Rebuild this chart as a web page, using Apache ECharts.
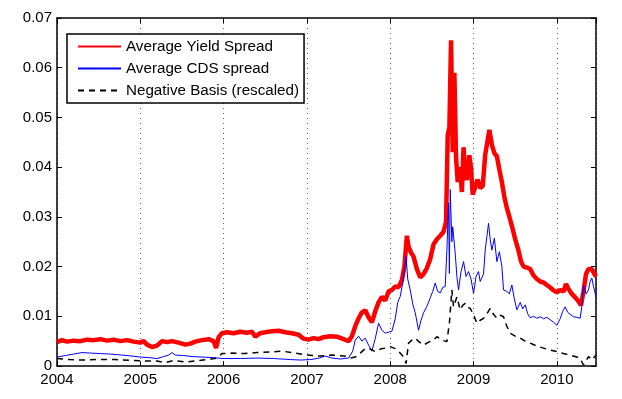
<!DOCTYPE html>
<html>
<head>
<meta charset="utf-8">
<script src="https://cdn.jsdelivr.net/npm/echarts@6/dist/echarts.min.js"></script>
<style>
  html, body { margin: 0; padding: 0; background: #fff; }
  #chart { width: 622px; height: 399px; }
</style>
</head>
<body>
<div id="chart"></div>
<script>
// values: [year, spread]
const yieldSpread = [
  [2004.00, 0.0048], [2004.06, 0.0052], [2004.12, 0.0049], [2004.20, 0.0051], [2004.28, 0.0050],
  [2004.36, 0.0053], [2004.44, 0.0052], [2004.52, 0.0054], [2004.60, 0.0051], [2004.68, 0.0053],
  [2004.76, 0.0050], [2004.84, 0.0052], [2004.92, 0.0049], [2005.00, 0.0047], [2005.04, 0.0050],
  [2005.08, 0.0043], [2005.14, 0.0038], [2005.20, 0.0041], [2005.26, 0.0050], [2005.32, 0.0048],
  [2005.38, 0.0050], [2005.46, 0.0047], [2005.54, 0.0043], [2005.60, 0.0045], [2005.66, 0.0049],
  [2005.74, 0.0052], [2005.82, 0.0054], [2005.88, 0.0050], [2005.91, 0.0036], [2005.94, 0.0058],
  [2005.98, 0.0066], [2006.04, 0.0068], [2006.12, 0.0066], [2006.20, 0.0069], [2006.28, 0.0067],
  [2006.34, 0.0069], [2006.38, 0.0059], [2006.44, 0.0066], [2006.50, 0.0068], [2006.58, 0.0070],
  [2006.66, 0.0071], [2006.74, 0.0068], [2006.82, 0.0066], [2006.90, 0.0063], [2006.96, 0.0055],
  [2007.02, 0.0053], [2007.08, 0.0056], [2007.14, 0.0054], [2007.20, 0.0058], [2007.28, 0.0060],
  [2007.36, 0.0059], [2007.44, 0.0054], [2007.50, 0.0050], [2007.54, 0.0060], [2007.58, 0.0080],
  [2007.62, 0.0096], [2007.66, 0.0108], [2007.70, 0.0112], [2007.74, 0.0098], [2007.78, 0.0088],
  [2007.82, 0.0110], [2007.86, 0.0128], [2007.90, 0.0139], [2007.94, 0.0132], [2007.98, 0.0150],
  [2008.02, 0.0153], [2008.06, 0.0160], [2008.10, 0.0158], [2008.14, 0.0173], [2008.17, 0.0200],
  [2008.20, 0.0262], [2008.22, 0.0240], [2008.25, 0.0228], [2008.28, 0.0220], [2008.32, 0.0195],
  [2008.36, 0.0178], [2008.40, 0.0185], [2008.44, 0.0197], [2008.48, 0.0215], [2008.52, 0.0245],
  [2008.56, 0.0255], [2008.60, 0.0262], [2008.64, 0.0270], [2008.67, 0.0290], [2008.69, 0.0465],
  [2008.71, 0.0480], [2008.73, 0.0655], [2008.75, 0.0430], [2008.77, 0.0590], [2008.79, 0.0420],
  [2008.81, 0.0370], [2008.84, 0.0400], [2008.86, 0.0350], [2008.88, 0.0440], [2008.90, 0.0390],
  [2008.92, 0.0374], [2008.95, 0.0424], [2008.97, 0.0398], [2008.99, 0.0345], [2009.02, 0.0360],
  [2009.05, 0.0375], [2009.08, 0.0358], [2009.11, 0.0362], [2009.14, 0.0425], [2009.17, 0.0455],
  [2009.19, 0.0475], [2009.22, 0.0445], [2009.25, 0.0428], [2009.28, 0.0422], [2009.31, 0.0395],
  [2009.34, 0.0370], [2009.37, 0.0340], [2009.40, 0.0318], [2009.43, 0.0300], [2009.46, 0.0282],
  [2009.50, 0.0255], [2009.54, 0.0232], [2009.57, 0.0210], [2009.60, 0.0200], [2009.64, 0.0198],
  [2009.68, 0.0195], [2009.72, 0.0182], [2009.76, 0.0175], [2009.80, 0.0170], [2009.84, 0.0168],
  [2009.88, 0.0163], [2009.92, 0.0158], [2009.96, 0.0152], [2010.00, 0.0148], [2010.04, 0.0153],
  [2010.08, 0.0150], [2010.11, 0.0165], [2010.14, 0.0155], [2010.18, 0.0145], [2010.22, 0.0138],
  [2010.26, 0.0130], [2010.29, 0.0122], [2010.32, 0.0150], [2010.35, 0.0185], [2010.38, 0.0195],
  [2010.42, 0.0195], [2010.45, 0.0185], [2010.47, 0.0180]
];

const cdsSpread = [
  [2004.00, 0.0018], [2004.10, 0.0021], [2004.20, 0.0024], [2004.30, 0.0027], [2004.40, 0.0026],
  [2004.52, 0.0025], [2004.64, 0.0024], [2004.78, 0.0022], [2004.90, 0.0020], [2005.00, 0.0018],
  [2005.10, 0.0017], [2005.20, 0.0015], [2005.28, 0.0019], [2005.34, 0.0022], [2005.38, 0.0027],
  [2005.42, 0.0022], [2005.52, 0.0021], [2005.62, 0.0019], [2005.74, 0.0018], [2005.86, 0.0017],
  [2006.00, 0.0015], [2006.20, 0.0015], [2006.40, 0.0016], [2006.60, 0.0015], [2006.80, 0.0013],
  [2006.92, 0.0012], [2007.05, 0.0013], [2007.15, 0.0016], [2007.22, 0.0020], [2007.30, 0.0016],
  [2007.40, 0.0014], [2007.50, 0.0016], [2007.55, 0.0030], [2007.58, 0.0052], [2007.62, 0.0060],
  [2007.66, 0.0050], [2007.70, 0.0056], [2007.74, 0.0042], [2007.78, 0.0030], [2007.82, 0.0055],
  [2007.86, 0.0086], [2007.90, 0.0072], [2007.94, 0.0066], [2007.98, 0.0068], [2008.02, 0.0070],
  [2008.06, 0.0095], [2008.09, 0.0128], [2008.12, 0.0140], [2008.15, 0.0167], [2008.19, 0.0220],
  [2008.21, 0.0175], [2008.24, 0.0153], [2008.27, 0.0125], [2008.30, 0.0107], [2008.34, 0.0072],
  [2008.37, 0.0092], [2008.40, 0.0107], [2008.44, 0.0120], [2008.48, 0.0137], [2008.51, 0.0150],
  [2008.54, 0.0167], [2008.57, 0.0150], [2008.60, 0.0147], [2008.63, 0.0158], [2008.66, 0.0160],
  [2008.68, 0.0233], [2008.70, 0.0328], [2008.71, 0.0186], [2008.72, 0.0355], [2008.74, 0.0250],
  [2008.75, 0.0280], [2008.78, 0.0227], [2008.80, 0.0180], [2008.82, 0.0153], [2008.85, 0.0190],
  [2008.88, 0.0210], [2008.91, 0.0180], [2008.94, 0.0190], [2008.97, 0.0175], [2009.00, 0.0146],
  [2009.03, 0.0180], [2009.06, 0.0190], [2009.08, 0.0170], [2009.10, 0.0167], [2009.12, 0.0185],
  [2009.14, 0.0233], [2009.16, 0.0260], [2009.18, 0.0287], [2009.20, 0.0255], [2009.22, 0.0233],
  [2009.25, 0.0257], [2009.28, 0.0210], [2009.31, 0.0230], [2009.34, 0.0200], [2009.36, 0.0153],
  [2009.40, 0.0150], [2009.43, 0.0145], [2009.46, 0.0163], [2009.49, 0.0135], [2009.52, 0.0113],
  [2009.56, 0.0128], [2009.59, 0.0115], [2009.62, 0.0123], [2009.65, 0.0105], [2009.68, 0.0097],
  [2009.72, 0.0100], [2009.76, 0.0096], [2009.80, 0.0099], [2009.84, 0.0095], [2009.88, 0.0098],
  [2009.92, 0.0093], [2009.96, 0.0088], [2010.00, 0.0082], [2010.04, 0.0095], [2010.07, 0.0110],
  [2010.10, 0.0119], [2010.13, 0.0108], [2010.16, 0.0104], [2010.20, 0.0099], [2010.24, 0.0098],
  [2010.28, 0.0096], [2010.30, 0.0120], [2010.32, 0.0163], [2010.35, 0.0145], [2010.38, 0.0153],
  [2010.40, 0.0170], [2010.42, 0.0177], [2010.44, 0.0160], [2010.47, 0.0139]
];

const negativeBasis = [
  [2004.00, 0.0015], [2004.15, 0.0013], [2004.30, 0.0012], [2004.50, 0.0013], [2004.70, 0.0013],
  [2004.90, 0.0011], [2005.05, 0.0010], [2005.20, 0.0010], [2005.30, 0.0007], [2005.40, 0.0011],
  [2005.55, 0.0008], [2005.70, 0.0011], [2005.85, 0.0014], [2005.92, 0.0016], [2005.98, 0.0025],
  [2006.10, 0.0026], [2006.25, 0.0025], [2006.40, 0.0027], [2006.55, 0.0028], [2006.70, 0.0030],
  [2006.85, 0.0026], [2007.00, 0.0022], [2007.15, 0.0020], [2007.30, 0.0022], [2007.45, 0.0020],
  [2007.52, 0.0016], [2007.58, 0.0018], [2007.64, 0.0026], [2007.70, 0.0035], [2007.76, 0.0034],
  [2007.82, 0.0029], [2007.88, 0.0034], [2007.94, 0.0036], [2008.00, 0.0039], [2008.06, 0.0035],
  [2008.12, 0.0026], [2008.16, 0.0018], [2008.19, 0.0005], [2008.22, 0.0046], [2008.26, 0.0052],
  [2008.30, 0.0056], [2008.35, 0.0048], [2008.40, 0.0042], [2008.46, 0.0048], [2008.52, 0.0052],
  [2008.56, 0.0059], [2008.62, 0.0052], [2008.68, 0.0049], [2008.71, 0.0086], [2008.74, 0.0153],
  [2008.76, 0.0119], [2008.80, 0.0139], [2008.84, 0.0113], [2008.87, 0.0122], [2008.90, 0.0126],
  [2008.93, 0.0118], [2008.96, 0.0116], [2009.00, 0.0103], [2009.04, 0.0086], [2009.08, 0.0092],
  [2009.12, 0.0096], [2009.16, 0.0105], [2009.20, 0.0116], [2009.24, 0.0104], [2009.28, 0.0096],
  [2009.32, 0.0102], [2009.36, 0.0099], [2009.40, 0.0080], [2009.44, 0.0066], [2009.50, 0.0060],
  [2009.56, 0.0056], [2009.62, 0.0050], [2009.68, 0.0046], [2009.76, 0.0040], [2009.84, 0.0036],
  [2009.92, 0.0032], [2010.00, 0.0029], [2010.08, 0.0025], [2010.16, 0.0022], [2010.24, 0.0018],
  [2010.28, 0.0015], [2010.32, 0.0002], [2010.35, 0.0010], [2010.38, 0.0019], [2010.42, 0.0012],
  [2010.47, 0.0022]
];

const seriesNames = ['Average Yield Spread', 'Average CDS spread', 'Negative Basis (rescaled)'];

const font = 'Liberation Sans, Arial, Helvetica, sans-serif';
const chart = echarts.init(document.getElementById('chart'), null, { renderer: 'canvas' });

const boxAxis = {
  axisLine: { show: true, onZero: false, lineStyle: { color: '#000', width: 1.5 } },
  axisTick: { show: true, inside: true, length: 5, lineStyle: { color: '#000', width: 1 } },
  splitLine: { show: false }
};

chart.setOption({
  animation: false,
  backgroundColor: '#fff',
  grid: { left: 57, right: 26, top: 18, bottom: 33, containLabel: false },
  legend: {
    orient: 'vertical',
    left: 67,
    top: 34,
    data: seriesNames,
    backgroundColor: '#fff',
    borderColor: '#000',
    borderWidth: 1.5,
    borderRadius: 0,
    padding: [5, 5, 5, 10],
    itemGap: 7,
    itemWidth: 43,
    itemHeight: 14,
    itemStyle: { opacity: 0 },
    textStyle: { fontFamily: font, fontSize: 15.2, color: '#000' }
  },
  xAxis: [
    Object.assign({}, boxAxis, {
      type: 'value',
      position: 'bottom',
      min: 2004,
      max: 2010.47,
      interval: 1,
      axisLabel: {
        color: '#000', fontFamily: font, fontSize: 15, margin: 6,
        showMaxLabel: false,
        formatter: v => String(Math.round(v))
      },
      splitLine: { show: true, lineStyle: { color: '#666', width: 1, type: [1, 4] } }
    }),
    Object.assign({}, boxAxis, {
      type: 'value',
      position: 'top',
      min: 2004,
      max: 2010.47,
      interval: 1,
      axisLabel: { show: false }
    })
  ],
  yAxis: [
    Object.assign({}, boxAxis, {
      type: 'value',
      position: 'left',
      min: 0,
      max: 0.07,
      interval: 0.01,
      axisLabel: { color: '#000', fontFamily: font, fontSize: 15, margin: 5 }
    }),
    Object.assign({}, boxAxis, {
      type: 'value',
      position: 'right',
      min: 0,
      max: 0.07,
      interval: 0.01,
      axisLabel: { show: false }
    })
  ],
  series: [
    {
      name: seriesNames[0],
      type: 'line',
      data: yieldSpread,
      symbol: 'none',
      lineStyle: { color: '#ff0000', width: 4.5 },
      itemStyle: { color: '#ff0000' },
      z: 2
    },
    {
      name: seriesNames[1],
      type: 'line',
      data: cdsSpread,
      symbol: 'none',
      lineStyle: { color: '#0000ff', width: 1 },
      itemStyle: { color: '#0000ff' },
      z: 3
    },
    {
      name: seriesNames[2],
      type: 'line',
      data: negativeBasis,
      symbol: 'none',
      lineStyle: { color: '#000', width: 1.5, type: [6, 5] },
      itemStyle: { color: '#000' },
      z: 4
    }
  ]
});
</script>
</body>
</html>
